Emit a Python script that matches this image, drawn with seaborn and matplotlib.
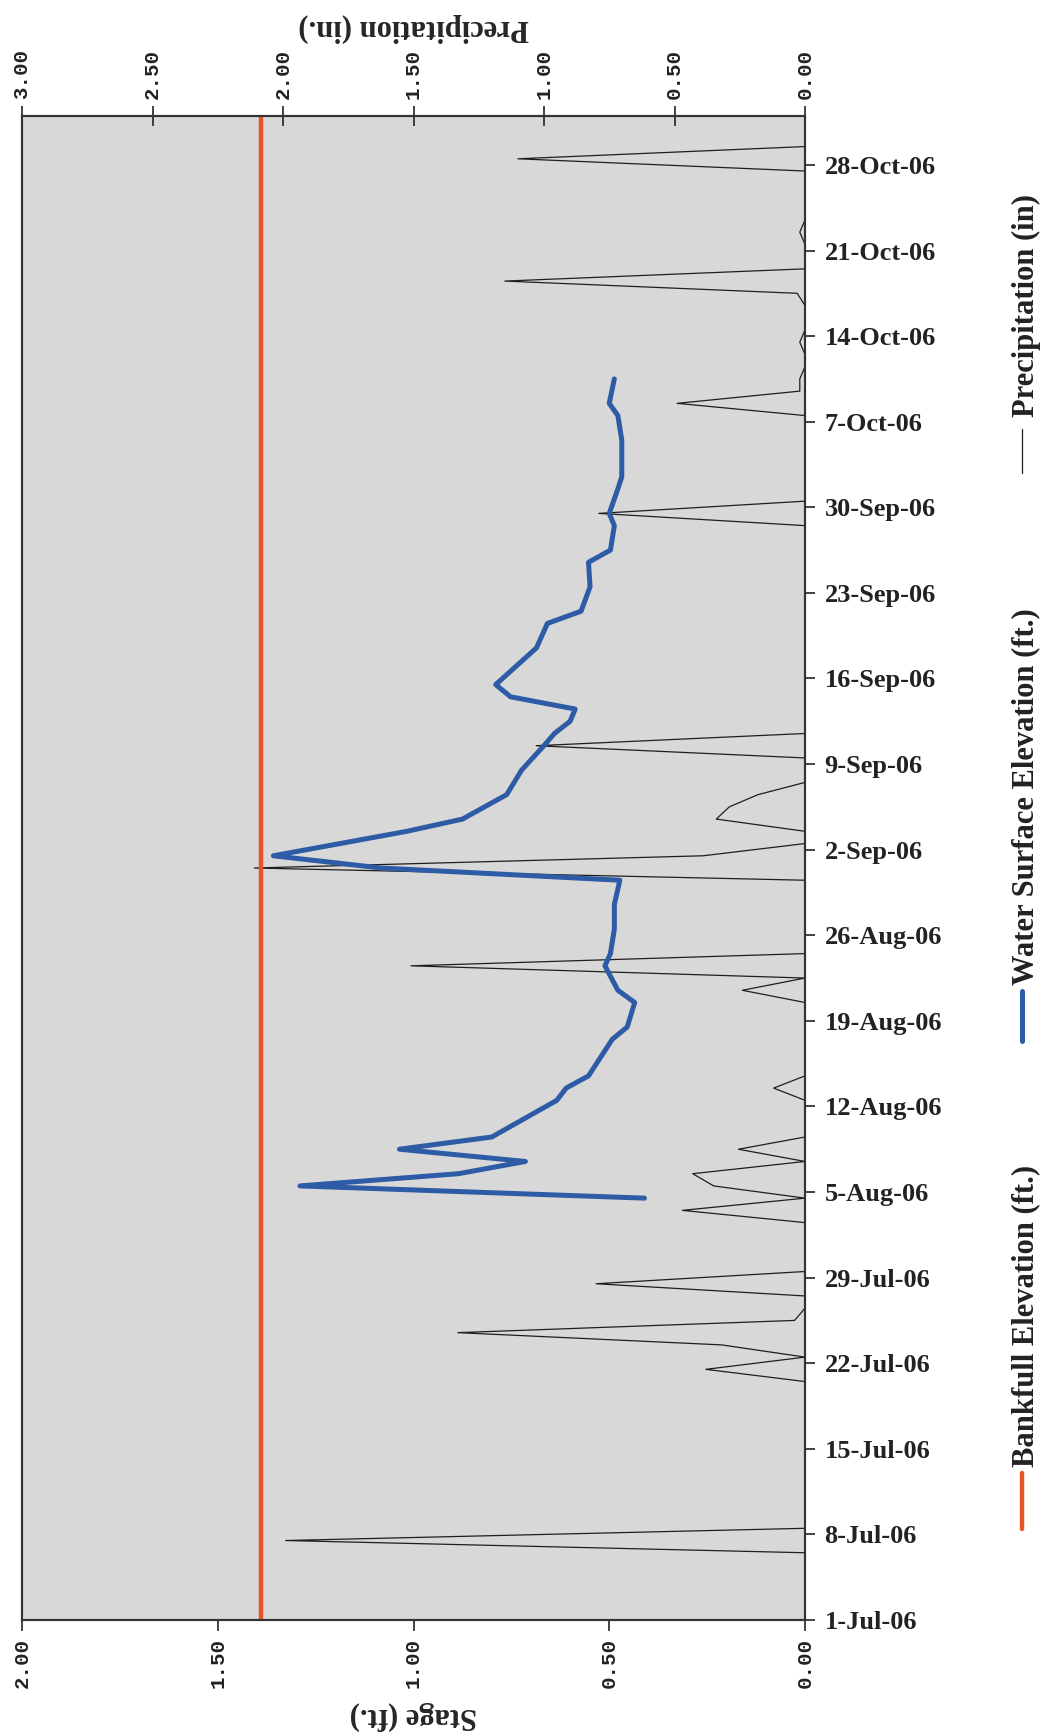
import pandas as pd
import matplotlib.pyplot as plt
import seaborn as sns
from matplotlib.lines import Line2D

# stage gauge readings (ft.)
stage_dates = ['2006-08-04', '2006-08-05', '2006-08-06', '2006-08-07', '2006-08-08', '2006-08-09',
               '2006-08-12', '2006-08-13', '2006-08-14', '2006-08-17', '2006-08-18', '2006-08-20',
               '2006-08-21', '2006-08-23', '2006-08-24', '2006-08-26', '2006-08-28', '2006-08-30',
               '2006-08-31', '2006-09-01', '2006-09-03', '2006-09-04', '2006-09-06', '2006-09-08',
               '2006-09-10', '2006-09-11', '2006-09-12', '2006-09-13', '2006-09-14', '2006-09-15',
               '2006-09-18', '2006-09-20', '2006-09-21', '2006-09-23', '2006-09-25', '2006-09-26',
               '2006-09-28', '2006-09-29', '2006-10-01', '2006-10-02', '2006-10-05', '2006-10-07',
               '2006-10-08', '2006-10-10']
stage_ft = [0.41, 1.29, 0.885, 0.714, 1.036, 0.80,
            0.634, 0.61, 0.553, 0.492, 0.454, 0.435,
            0.478, 0.511, 0.497, 0.487, 0.487, 0.473,
            1.083, 1.358, 1.017, 0.875, 0.762, 0.724,
            0.667, 0.64, 0.60, 0.587, 0.752, 0.79,
            0.686, 0.658, 0.572, 0.549, 0.553, 0.497,
            0.487, 0.50, 0.478, 0.468, 0.468, 0.478,
            0.50, 0.487]

# daily rainfall (in.), days not listed were dry
rain_dates = ['2006-07-07', '2006-07-21', '2006-07-23', '2006-07-24', '2006-07-25', '2006-07-28',
              '2006-08-03', '2006-08-05', '2006-08-06', '2006-08-08', '2006-08-13', '2006-08-21',
              '2006-08-23', '2006-08-31', '2006-09-01', '2006-09-04', '2006-09-05', '2006-09-06',
              '2006-09-10', '2006-09-29', '2006-10-08', '2006-10-09', '2006-10-10', '2006-10-13',
              '2006-10-17', '2006-10-18', '2006-10-22', '2006-10-28']
rain_in = [1.99, 0.38, 0.32, 1.33, 0.04, 0.80,
           0.47, 0.35, 0.43, 0.255, 0.12, 0.24,
           1.51, 2.11, 0.39, 0.34, 0.29, 0.18,
           1.03, 0.79, 0.49, 0.02, 0.02, 0.02,
           0.03, 1.15, 0.02, 1.10]

bankfull_ft = 1.39

stage_ticks = [0.0, 0.5, 1.0, 1.5, 2.0]
rain_ticks = [0.0, 0.5, 1.0, 1.5, 2.0, 2.5, 3.0]
date_ticks = pd.date_range('2006-07-01', '2006-10-28', freq='7D')

start = pd.Timestamp('2006-07-01')
days = pd.date_range('2006-07-01', '2006-10-31')

stage_df = pd.DataFrame({'date': pd.to_datetime(stage_dates), 'stage': stage_ft})
stage_df['pos'] = (stage_df['date'] - start).dt.days + 0.5

rain = pd.Series(rain_in, index=pd.to_datetime(rain_dates)).reindex(days, fill_value=0.0)
rain_df = pd.DataFrame({'date': days, 'rain': rain.values})
rain_df['pos'] = (rain_df['date'] - start).dt.days + 0.5

sns.set_theme(style='white')
plt.rcParams['font.family'] = ['Liberation Serif', 'DejaVu Serif']
plt.rcParams['font.weight'] = 'bold'

fig = plt.figure(figsize=(10.49, 17.36), dpi=100)
ax = fig.add_axes([22/1049, 116/1736, 783/1049, 1504/1736])
ax2 = ax.twiny()

# precipitation behind, stage in front
ax.set_zorder(ax2.get_zorder() + 1)
ax.patch.set_visible(False)
ax2.patch.set_visible(True)
ax2.set_facecolor('#d8d8d8')

sns.lineplot(data=rain_df, x='rain', y='pos', orient='y', sort=False, estimator=None,
             color='#1e1e1e', lw=0.9, ax=ax2)
sns.lineplot(data=stage_df, x='stage', y='pos', orient='y', sort=False, estimator=None,
             color='#2e5ba6', lw=3.6, ax=ax)
ax.axvline(bankfull_ft, color='#e8542a', lw=3.2)

ax.set_xlim(2, 0)
ax2.set_xlim(3, 0)
ax.set_ylim(0, 123)

for a in (ax, ax2):
    for s in a.spines.values():
        s.set_color('#333333')
        s.set_linewidth(1.5)

mono = dict(family='Liberation Mono', fontsize=15, fontweight='bold')

ax.set_xticks(stage_ticks)
ax.set_xticklabels([f'{v:.2f}' for v in stage_ticks], rotation=90, **mono)
ax.tick_params(axis='x', bottom=True, direction='out', length=8, width=1.2, pad=5, colors='#222222')
ax.set_xlabel('Stage (ft.)', rotation=180, fontsize=22, fontweight='bold', labelpad=9)

ax2.set_xticks(rain_ticks)
ax2.set_xticklabels([f'{v:.2f}' for v in rain_ticks], rotation=90, **mono)
ax2.tick_params(axis='x', top=True, direction='inout', length=14, width=1.2, pad=5, colors='#222222')
ax2.set_xlabel('Precipitation (in.)', rotation=180, fontsize=22, fontweight='bold', labelpad=10)

ax.yaxis.tick_right()
ax.set_yticks((date_ticks - start).days)
ax.set_yticklabels([f'{d.day}-{d.strftime("%b")}-06' for d in date_ticks], fontsize=19, fontweight='bold')
ax.tick_params(axis='y', right=True, left=False, direction='out', length=7, width=1.2, pad=7,
               colors='#222222')
ax.set_ylabel('')
ax2.set_ylabel('')

# legend, turned like the rest of the page (pixel rows from the top)
W, H = 1049, 1736
legend = [('Bankfull Elevation (ft.)', '#e8542a', 3.2, 1529, 1473, 1467),
          ('Water Surface Elevation (ft.)', '#2e5ba6', 3.6, 1041, 991, 985),
          ('Precipitation (in)', '#1e1e1e', 0.9, 473, 429, 417)]
for text, col, lw, y_lo, y_hi, y_txt in legend:
    fig.add_artist(Line2D([1022/W, 1022/W], [1 - y_lo/H, 1 - y_hi/H], transform=fig.transFigure,
                          color=col, lw=lw, solid_capstyle='round'))
    fig.text(1026/W, 1 - y_txt/H, text, rotation=90, ha='center', va='bottom',
             fontsize=22, fontweight='bold', color='#222222')

fig.savefig('out.png', dpi=100, facecolor='white')
